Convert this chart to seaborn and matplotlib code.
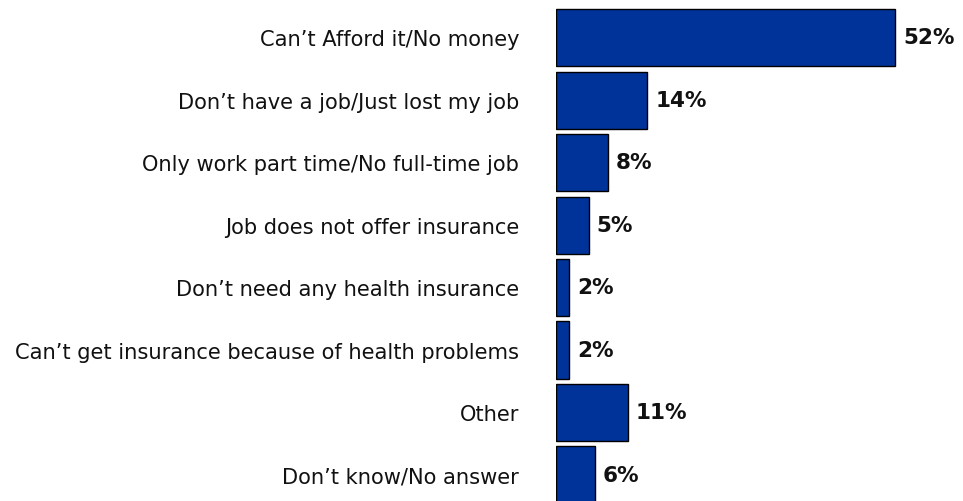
import seaborn as sns
import matplotlib.pyplot as plt
import pandas as pd

reasons = [
    "Can\u2019t Afford it/No money",
    "Don\u2019t have a job/Just lost my job",
    "Only work part time/No full-time job",
    "Job does not offer insurance",
    "Don\u2019t need any health insurance",
    "Can\u2019t get insurance because of health problems",
    "Other",
    "Don\u2019t know/No answer",
]
percents = [52, 14, 8, 5, 2, 2, 11, 6]

df = pd.DataFrame({"reason": reasons, "pct": percents})

sns.set_style("white")
plt.rcParams['font.family'] = ['DejaVu Sans']

fig = plt.figure(figsize=(9.63, 5.02), dpi=100)
ax = fig.add_axes([556 / 963, 0, 407 / 963, 1])

sns.barplot(data=df, x="pct", y="reason", orient="h", color="#003399",
            saturation=1, edgecolor="black", linewidth=1, width=0.912, ax=ax)

for i, v in enumerate(percents):
    ax.text(v + 1.2, i, f"{v}%", va="center", ha="left",
            fontsize=15.5, fontweight="bold", color="#111111")

ax.set_xlim(0, 62.4)
ax.set_ylim(7.416, -0.616)
ax.set_xlabel("")
ax.set_ylabel("")
ax.set_xticks([])
ax.tick_params(axis="y", length=0, pad=26.5, labelsize=15.1, labelcolor="#111111")
sns.despine(ax=ax, left=True, bottom=True)

fig.savefig("out.png", dpi=100)
